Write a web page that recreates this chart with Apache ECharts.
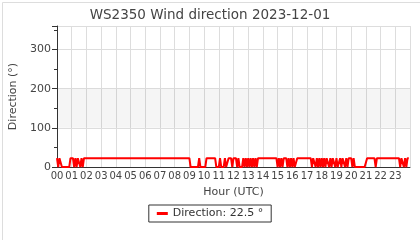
<!DOCTYPE html>
<html><head><meta charset="utf-8">
<script src="https://cdn.jsdelivr.net/npm/echarts@6/dist/echarts.min.js"></script>
<style>html,body{margin:0;padding:0;background:#fff}#c{width:420px;height:240px}</style>
</head><body><div id="c"></div>
<script>
const titleText = 'WS2350 Wind direction 2023-12-01';
const seriesName = 'Direction: 22.5 °';
const hourLabels = ['00','01','02','03','04','05','06','07','08','09','10','11','12','13','14','15','16','17','18','19','20','21','22','23'];
const yTicks = [0, 100, 200, 300];
const bandRange = [100, 200];
// sample times (HH:MM) and wind direction (degrees)
const times = [
 '00:00','00:05','00:10','00:15','00:20','00:50','00:55','01:05','01:10','01:15','01:20','01:25','01:30','01:35','01:40','01:45','01:50',
 '09:00','09:05','09:35','09:40','09:45','10:05','10:10','10:45','10:50','11:00','11:05','11:10','11:20','11:25','11:30','11:40',
 '11:50','11:55','12:00','12:10','12:15','12:20','12:25','12:35','12:40','12:45','12:50','12:55','13:00','13:05','13:10','13:15','13:20','13:25','13:30','13:35','13:40',
 '14:55','15:00','15:05','15:10','15:15','15:20','15:25','15:35','15:40','15:45','15:50','15:55','16:00','16:05','16:10','16:20',
 '17:15','17:20','17:25','17:30','17:35','17:40','17:45','17:50','17:55','18:00','18:05','18:10','18:15','18:20','18:25','18:30','18:35','18:40','18:45','18:50','18:55','19:00','19:05','19:10','19:15','19:20','19:25','19:30','19:35','19:40','19:45','19:50','20:00','20:05','20:10','20:15',
 '20:55','21:05','21:35','21:40','21:45','23:15','23:20','23:25','23:30','23:35','23:40','23:45','23:50','23:55'
];
const directions = [
 22.5,0,22.5,22.5,0,0,22.5,22.5,0,22.5,0,22.5,22.5,0,22.5,0,22.5,
 22.5,0,0,22.5,0,0,22.5,22.5,0,0,22.5,0,0,22.5,0,22.5,
 22.5,0,22.5,22.5,0,22.5,0,0,22.5,0,22.5,0,22.5,0,22.5,0,22.5,0,22.5,0,22.5,
 22.5,0,22.5,0,22.5,0,22.5,22.5,0,22.5,0,22.5,0,22.5,0,22.5,
 22.5,0,22.5,22.5,0,22.5,0,22.5,0,22.5,0,22.5,0,22.5,22.5,0,22.5,0,22.5,22.5,0,22.5,0,0,22.5,0,22.5,22.5,0,22.5,0,22.5,22.5,0,22.5,0,
 0,22.5,22.5,0,22.5,22.5,0,22.5,22.5,0,22.5,0,22.5,22.5
];

const toHour = t => { const [h, m] = t.split(':').map(Number); return h + m / 60; };
const points = times.map((t, i) => [toHour(t), directions[i]]);
const FONT = 'DejaVu Sans';

const chart = echarts.init(document.getElementById('c'), null, {renderer: 'canvas'});
chart.setOption({
  animation: false,
  backgroundColor: '#fff',
  title: {text: titleText, left: 'center', top: 3,
    textStyle: {fontFamily: FONT, fontSize: 13.5, fontWeight: 'normal', color: '#444'}},
  grid: {left: 57, right: 10, top: 26, bottom: 73, containLabel: false},
  legend: {
    bottom: 18, left: 'center', data: [seriesName],
    icon: 'rect', itemWidth: 11, itemHeight: 3, itemGap: 6,
    borderColor: '#333', borderWidth: 1, borderRadius: 0, padding: [3, 8, 3, 8],
    textStyle: {fontFamily: FONT, fontSize: 11, color: '#333'}
  },
  xAxis: {
    type: 'value', min: 0, max: 24, interval: 1,
    name: 'Hour (UTC)', nameLocation: 'middle', nameGap: 20,
    nameTextStyle: {fontFamily: FONT, fontSize: 11, color: '#444'},
    axisLine: {show: true, lineStyle: {color: '#333', width: 1}},
    axisTick: {show: false},
    axisLabel: {fontFamily: FONT, fontSize: 10, color: '#444', margin: 4,
      formatter: v => (v < 24 ? hourLabels[v] : '')},
    splitLine: {show: true, lineStyle: {color: '#ddd', width: 1}}
  },
  yAxis: {
    type: 'value', min: 0, max: 360, interval: 100,
    name: 'Direction (°)', nameLocation: 'middle', nameGap: 38,
    nameTextStyle: {fontFamily: FONT, fontSize: 11, color: '#444'},
    axisLine: {show: true, lineStyle: {color: '#333', width: 1}},
    axisTick: {show: true, length: 5, lineStyle: {color: '#333'}},
    minorTick: {show: true, splitNumber: 2, length: 3, lineStyle: {color: '#333'}},
    axisLabel: {fontFamily: FONT, fontSize: 11, color: '#444', margin: 6,
      formatter: v => (yTicks.indexOf(v) >= 0 ? String(v) : '')},
    splitLine: {show: true, lineStyle: {color: '#ddd', width: 1}}
  },
  series: [{
    name: seriesName, type: 'line', data: points, showSymbol: false,
    lineStyle: {color: '#ff0000', width: 2}, itemStyle: {color: '#ff0000'},
    markArea: {silent: true, itemStyle: {color: 'rgba(0,0,0,0.04)'},
      data: [[{yAxis: bandRange[0]}, {yAxis: bandRange[1]}]]}
  }],
  graphic: [{type: 'rect', left: 0, top: 0, silent: true,
    shape: {width: 419, height: 239}, style: {fill: 'none', stroke: '#ddd', lineWidth: 1}}]
});
</script></body></html>
